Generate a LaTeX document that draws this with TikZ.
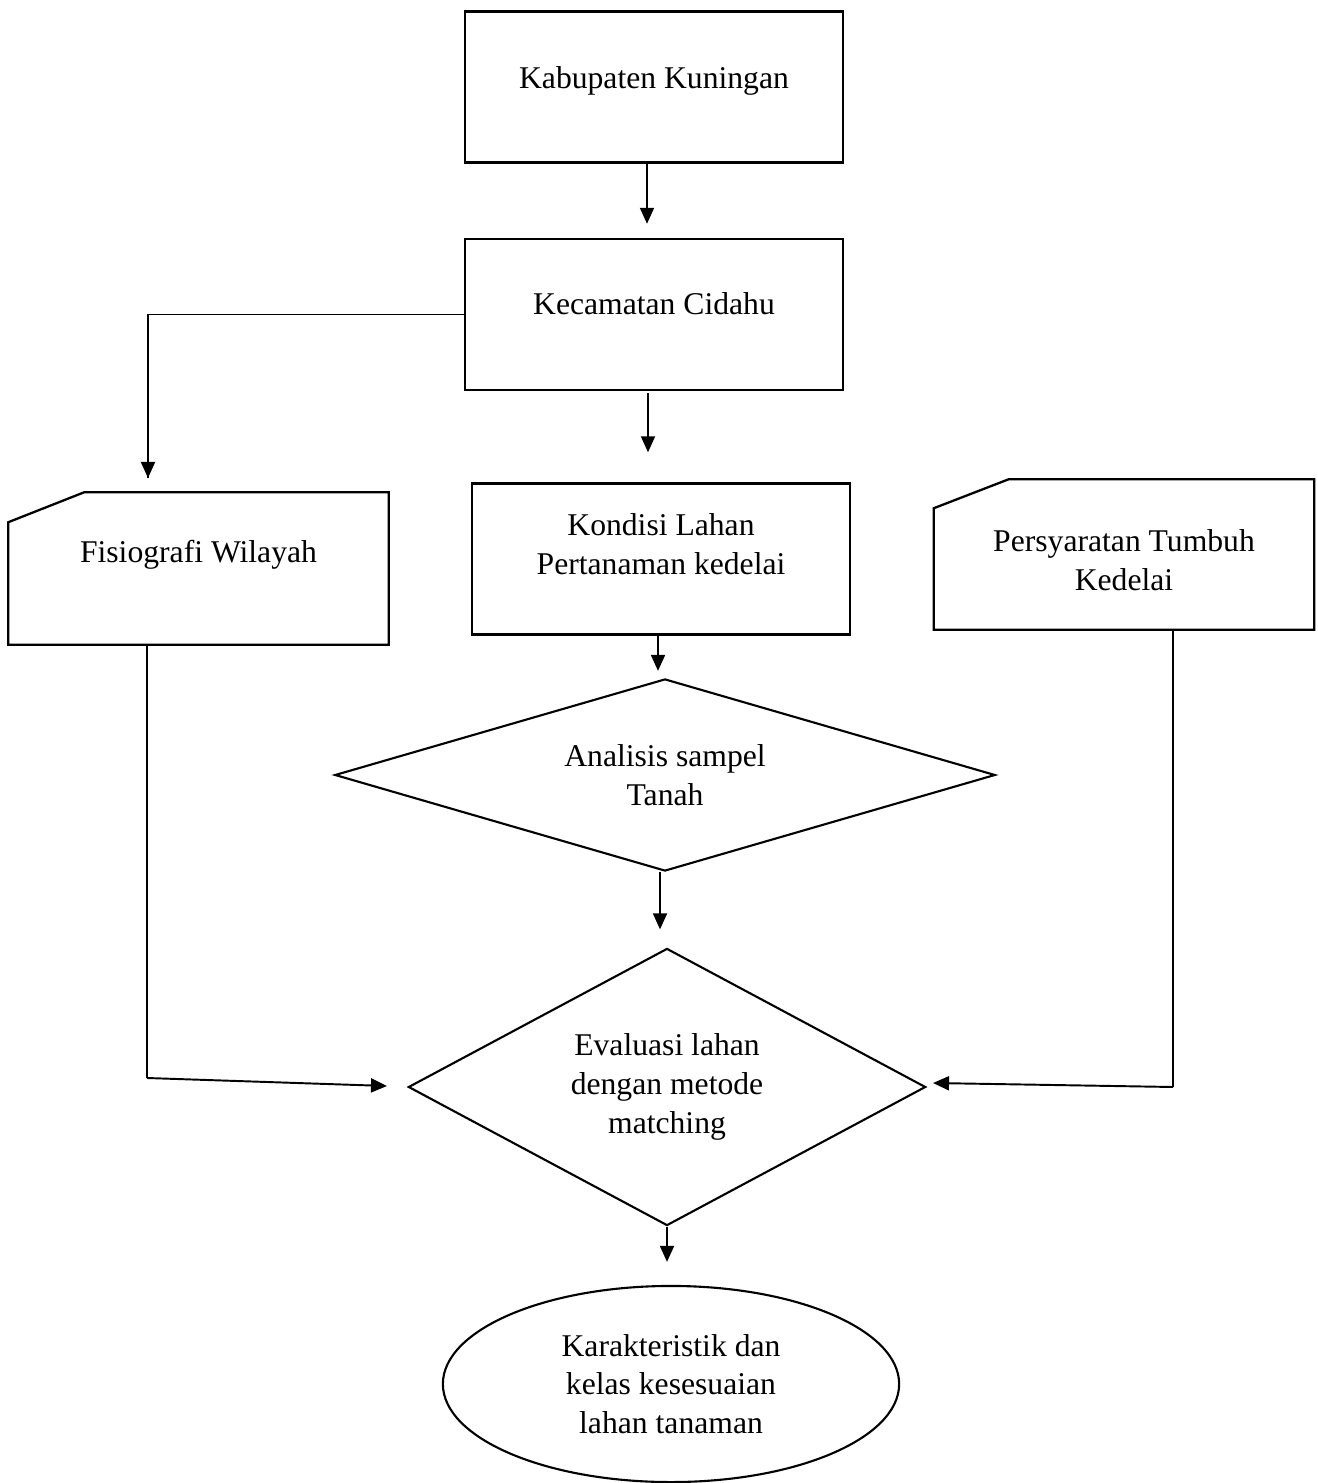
\documentclass[tikz,border=0pt]{standalone}
\usepackage{fontspec}
\setmainfont{Liberation Serif}
\usetikzlibrary{positioning, arrows.meta, shapes.geometric, calc}

\begin{document}
\begin{tikzpicture}[
  x=0.01cm, y=-0.01cm,
  font=\fontsize{9}{11}\selectfont,
  box/.style={draw, rectangle, line width=0.65pt, minimum width=3.78cm, minimum height=1.51cm},
  card/.style={rectangle, minimum width=3.79cm, minimum height=1.51cm},
  txt/.style={align=center, inner sep=0pt},
  decide/.style={draw, diamond, line width=0.6pt, inner sep=0pt, align=center},
  result/.style={draw, ellipse, line width=0.6pt, minimum width=4.56cm, minimum height=1.96cm, align=center},
  arrow/.style={-{Triangle[length=0.16cm,width=0.14cm]}, line width=0.55pt},
  link/.style={line width=0.45pt}
]
  \useasboundingbox (0,0) rectangle (1317,1483);

  \node[box] (kab) at (654,87)    {};
  \node[box] (kec) at (654,314.5) {};
  \node[box] (kon) at (661,559)   {};
  \node[card] (fis) at (198.5,568.5) {};
  \node[card, minimum height=1.49cm] (per) at (1124,554.5) {};
  \node[txt] (kabtxt) at ([yshift=0.06cm]kab.center) {Kabupaten Kuningan};
  \node[txt] (kectxt) at ([yshift=0.11cm]kec.center) {Kecamatan Cidahu};
  \node[txt] (kontxt) at ([yshift=0.15cm]kon.center) {Kondisi Lahan\\Pertanaman kedelai};
  \node[txt] (fistxt) at ([yshift=0.14cm]fis.center) {Fisiografi Wilayah};
  \node[txt] (pertxt) at ([yshift=-0.06cm]per.center) {Persyaratan Tumbuh\\Kedelai};
  \node[decide, aspect=3.44, minimum width=6.6cm, minimum height=1.92cm] (ana) at (665,775) {Analisis sampel\\Tanah};
  \node[decide, aspect=1.87, minimum width=5.17cm, minimum height=2.77cm] (eva) at (667,1087) {Evaluasi lahan\\dengan metode\\matching};
  \node[result] (kar) at (671,1384) {Karakteristik dan\\kelas kesesuaian\\lahan tanaman};

  % cut-corner cards
  \draw[line width=0.65pt] (fis.south west) -- ([yshift=-0.30cm]fis.north west) -- ([xshift=0.76cm]fis.north west)
    -- (fis.north east) -- (fis.south east) -- cycle;
  \draw[line width=0.65pt] (per.south west) -- ([yshift=-0.29cm]per.north west) -- ([xshift=0.75cm]per.north west)
    -- (per.north east) -- (per.south east) -- cycle;

  \coordinate (fisin) at (148,478);
  \coordinate (lbend) at (147,1078);
  \coordinate (lend)  at (387,1086);
  \coordinate (rbend) at (1173,1087);
  \coordinate (rend)  at (933,1083);

  % main chain
  \draw[arrow, shorten >=0.14cm] ([xshift=-0.07cm]kab.south) -- ([xshift=-0.07cm]kec.north);
  \draw[arrow, shorten <=0.02cm, shorten >=0.30cm] ([xshift=-0.06cm]kec.south) -- ([xshift=-0.06cm]kec.south |- kon.north);
  \draw[arrow, shorten >=0.07cm] ([xshift=-0.03cm]kon.south) -- ([xshift=-0.03cm]kon.south |- ana.north);
  \draw[arrow, shorten >=0.18cm] ([xshift=-0.05cm]ana.south) -- ([xshift=-0.05cm]ana.south |- eva.north);
  \draw[arrow, shorten >=0.23cm] (eva.south) -- (eva.south |- kar.north);

  % side branches
  \draw[link] (kec.west) -| (fisin);
  \draw[arrow] (fisin |- kec.west) -- (fisin);
  \draw[link] (fis.south -| lbend) -- (lbend);
  \draw[arrow] (lbend) -- (lend);
  \draw[link] (per.south -| rbend) -- (rbend);
  \draw[arrow] (rbend) -- (rend);
\end{tikzpicture}
\end{document}
